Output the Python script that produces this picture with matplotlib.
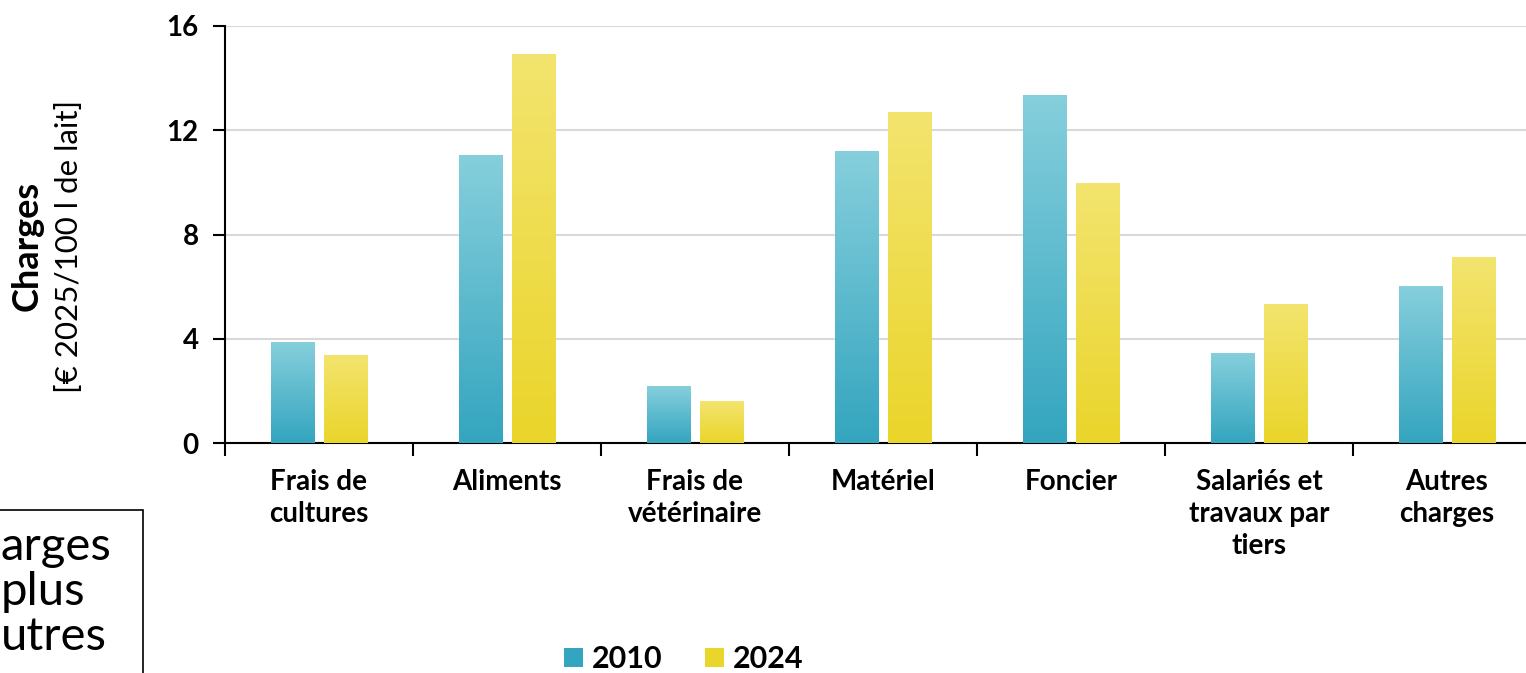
import numpy as np
import matplotlib
matplotlib.use("Agg")
import matplotlib.pyplot as plt
from matplotlib.colors import LinearSegmentedColormap
from matplotlib.patches import Patch, Rectangle

# data
categories = ["Frais de\ncultures", "Aliments", "Frais de\nvétérinaire", "Matériel",
              "Foncier", "Salariés et\ntravaux par\ntiers", "Autres\ncharges"]
years = ["2010", "2024"]
vals_2010 = [3.84, 11.05, 2.15, 11.2, 13.35, 3.45, 5.99]
vals_2024 = [3.34, 14.89, 1.61, 12.7, 9.94, 5.33, 7.10]
yticks = [0, 4, 8, 12, 16]

plt.rcParams['font.family'] = ['Lato', 'DejaVu Sans']

W, H = 1526, 673
fig = plt.figure(figsize=(W / 100, H / 100), dpi=100)
ax = fig.add_axes([225 / W, 1 - 443 / H, 1316 / W, 417 / H])

# colours (bottom, top) of the gradients
teal = ("#34a5bf", "#86cfdc")
yellow = ("#ead52a", "#f3e46f")

x = np.arange(len(categories))
width = 0.23
off = 0.141
bars1 = ax.bar(x - off, vals_2010, width, color="none", edgecolor="none", zorder=3)
bars2 = ax.bar(x + off, vals_2024, width, color="none", edgecolor="none", zorder=3)

grad = np.linspace(0, 1, 256).reshape(-1, 1)
for bars, cols in [(bars1, teal), (bars2, yellow)]:
    cmap = LinearSegmentedColormap.from_list("g", list(cols))
    for p in bars:
        x0, w, h = p.get_x(), p.get_width(), p.get_height()
        ax.imshow(grad, extent=[x0, x0 + w, 0, h], origin="lower", cmap=cmap,
                  aspect="auto", zorder=3, interpolation="bilinear")

ax.set_xlim(-0.5, len(categories) - 0.5)
ax.set_ylim(0, 16)
ax.set_aspect("auto")

# grid and spines
ax.set_yticks(yticks)
ax.set_yticklabels([str(v) for v in yticks], fontsize=20, fontweight="bold")
ax.yaxis.grid(True, color="#d9d9d9", linewidth=1.5, zorder=0)
ax.set_axisbelow(True)
for s in ["top", "right"]:
    ax.spines[s].set_visible(False)
for s in ["left", "bottom"]:
    ax.spines[s].set_linewidth(1.5)
ax.tick_params(axis="y", length=9, width=1.5, pad=10)

ax.set_xticks(np.arange(len(categories) + 1) - 0.5)
ax.set_xticklabels([])
ax.tick_params(axis="x", which="major", length=9, width=1.5, direction="out")
ax.set_xticks(x, minor=True)
ax.set_xticklabels(categories, minor=True, fontsize=20, fontweight="bold",
                   linespacing=1.28, va="top")
ax.tick_params(axis="x", which="minor", length=0, pad=19)

# y label (two lines)
fig.text(27 / W, 1 - 246 / H, "Charges", rotation=90, ha="center", va="center",
         fontsize=26, fontweight="bold")
fig.text(69 / W, 1 - 246 / H, "[€ 2025/100 l de lait]", rotation=90, ha="center",
         va="center", fontsize=22.5)

# legend
handles = [Patch(facecolor=teal[0], edgecolor="none"),
           Patch(facecolor=yellow[0], edgecolor="none")]
fig.legend(handles, years, loc="center", bbox_to_anchor=(684 / W, 1 - 659 / H),
           ncol=2, frameon=False, prop={"weight": "bold", "size": 22},
           handlelength=0.6, handleheight=0.6, handletextpad=0.3,
           columnspacing=1.4, borderpad=0, borderaxespad=0)

# partially visible text box at lower left
fig.add_artist(Rectangle((-20 / W, 1 - 683 / H), 163 / W, 173 / H,
                         transform=fig.transFigure, facecolor="none",
                         edgecolor="black", linewidth=1.2, clip_on=False))
for word, xl, yb in [("arges", 1, 560), ("plus", 1, 605), ("utres", 1, 650)]:
    fig.text(xl / W, 1 - yb / H, word, ha="left", va="baseline", fontsize=34)

fig.savefig("out.png", dpi=100)
